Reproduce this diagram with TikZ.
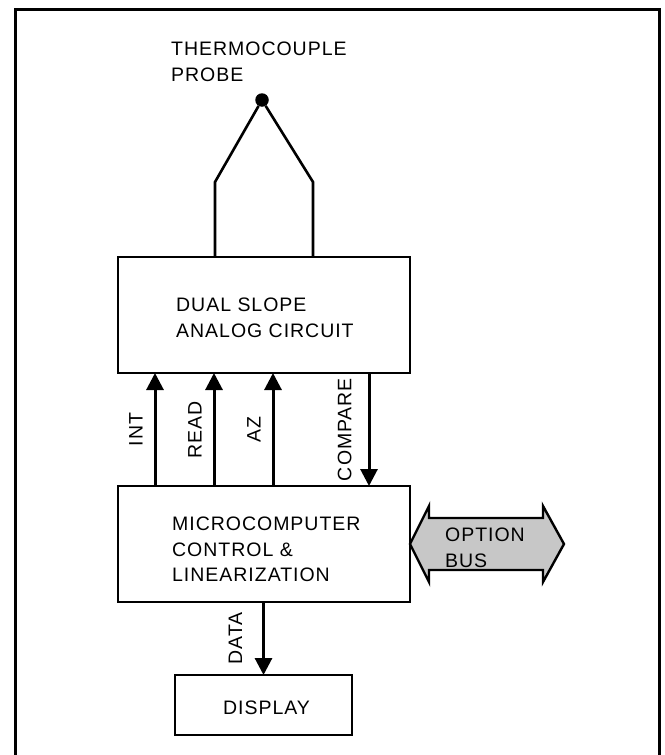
\documentclass[tikz,border=0pt]{standalone}
\usepackage{fontspec}
\setmainfont{Liberation Sans}[LetterSpace=5]
\usetikzlibrary{arrows.meta}

\tikzset{
  box/.style={draw, line width=2.4pt, inner sep=0pt, outer sep=0pt},
  txt/.style={inner sep=0pt, align=left, anchor=north west, font=\fontsize{19.5}{25.5}\selectfont},
  sig/.style={line width=3pt, ->},
  siglabel/.style={midway, rotate=90, anchor=south, inner xsep=0pt, inner ysep=11pt, font=\fontsize{19.5}{19.5}\selectfont},
  wire/.style={line width=2.6pt},
}

\begin{document}
\begin{tikzpicture}[x=1pt, y=-1pt, >={Triangle[length=17pt,width=17pt]}]
        \useasboundingbox (0,0) rectangle (664,755);
        \draw[line width=3pt] (15.5,755) -- (15.5,9.5) -- (659,9.5) -- (659,755);

        % probe
        \node[txt] (probe) at (171,42) {THERMOCOUPLE\\PROBE};
        \node[circle, fill, inner sep=0pt, minimum size=13.5pt] (tip) at (262,100) {};

        % boxes
        \node[box, minimum width=292pt, minimum height=116pt] (dual) at (264,315) {};
        \node[box, minimum width=292pt, minimum height=116pt] (micro) at (264,544) {};
        \node[box, minimum width=177pt, minimum height=60pt] (display) at (263.5,705) {};
        \node[txt] (dualtext) at (176,298) {DUAL SLOPE\\ANALOG CIRCUIT};
        \node[txt] (microtext) at (172,517) {MICROCOMPUTER\\CONTROL \&\\LINEARIZATION};
        \node[txt] (displaytext) at (223,701) {DISPLAY};

        % thermocouple wires
        \coordinate (lbend) at (215,182);
        \coordinate (rbend) at (313,182);
        \draw[wire] (tip) -- (lbend) -- (lbend |- dual.north);
        \draw[wire] (tip) -- (rbend) -- (rbend |- dual.north);

        % control lines
        \foreach \x/\name in {155/INT,214/READ,273/AZ} {
          \coordinate (c\name) at (\x,0);
          \draw[sig] (micro.north -| c\name) -- node[siglabel] {\name} (dual.south -| c\name);
        }
        \coordinate (ccmp) at (369,0);
        \draw[sig] (dual.south -| ccmp) -- node[siglabel, inner ysep=16pt] {COMPARE} (micro.north -| ccmp);
        \draw[sig] (micro.south -| display.north) -- node[siglabel, inner ysep=20pt] {DATA} (display.north);

        % option bus
        \draw[line width=2.4pt, fill=black!22, line join=miter]
          (410,544) -- (429,506) -- (429,518) -- (543,518) -- (543,506) -- (564,544)
          -- (543,582) -- (543,570) -- (429,570) -- (429,582) -- cycle;
        \node[txt] (bustext) at (445,528) {OPTION\\BUS};
      \end{tikzpicture}
\end{document}
